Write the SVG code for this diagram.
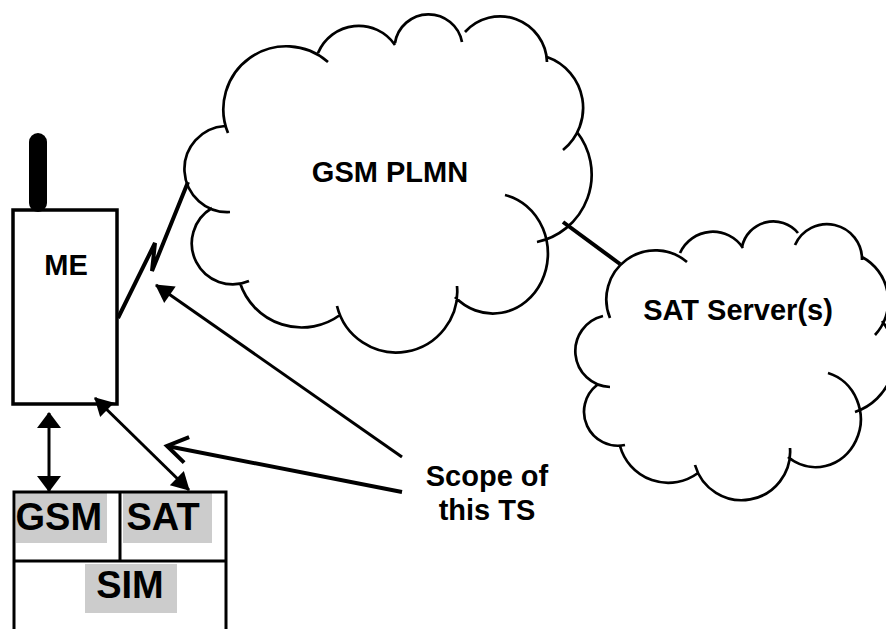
<svg xmlns="http://www.w3.org/2000/svg" width="886" height="629" viewBox="0 0 886 629">
<style>
.lbl{font-family:"Liberation Sans",Arial,sans-serif;font-weight:bold;fill:#000}
.m{font-size:29px;text-anchor:middle}
.big{font-size:38px}
.cloudfill{fill:#fff;stroke:none}
.cloudline{fill:none;stroke:#000;stroke-width:2.7;stroke-linecap:butt}
.box{fill:none;stroke:#000;stroke-width:3.5}
.hl{fill:#cccccc}
.ln{fill:none;stroke:#000;stroke-width:3}
.thick{fill:none;stroke:#000;stroke-width:4}
</style>
<defs>
<marker id="ah" markerUnits="userSpaceOnUse" markerWidth="18" markerHeight="20" refX="17" refY="10" orient="auto-start-reverse" overflow="visible">
<path d="M0,0 L18,10 L0,20 z" fill="#000"/>
</marker>
<marker id="ahv" markerUnits="userSpaceOnUse" markerWidth="16" markerHeight="24" refX="15" refY="12" orient="auto-start-reverse" overflow="visible">
<path d="M0,0 L16,12 L0,24 z" fill="#000"/>
</marker>
<marker id="open" markerUnits="userSpaceOnUse" markerWidth="22" markerHeight="28" refX="21" refY="14" orient="auto" overflow="visible">
<path d="M1,1 L21,14 L1,27" fill="none" stroke="#000" stroke-width="4"/>
</marker>
</defs>

<g id="gsm-plmn">
<path class="cloudfill" d="M249,281 A41,41 0 0 1 212,208 L225,126 A63,63 0 0 1 328,62 L318,53 A44,44 0 0 1 395,45 A34,34 0 0 1 462,42 L465,32 A47,47 0 0 1 547,62 A54,54 0 0 1 563,150 L577,132 A69,69 0 0 1 537,242 A55,60 0 0 1 455,297 L457,286 A61,61 0 0 1 337,306 L340,315 A65,65 0 0 1 240,283 Z"/>
<path class="cloudline" d="M249,281 A41,41 0 0 1 212,208 M230,212 A43,43 0 0 1 225,126 M228,133 A63,63 0 0 1 328,62 M318,53 A44,44 0 0 1 395,45 M395,43 A34,34 0 0 1 462,42 M465,32 A47,47 0 0 1 547,62 M547,57 A54,54 0 0 1 563,150 M577,132 A69,69 0 0 1 537,242 M505,195 A55,60 0 1 1 455,297 M457,286 A61,61 0 0 1 337,306 M340,315 A65,65 0 0 1 240,283"/>
<text class="lbl m" x="390" y="182">GSM PLMN</text>
</g>

<g id="sat-servers">
<path class="cloudfill" d="M625,445 A34,34 0 0 1 597,385 L610,387 A36,36 0 0 1 603,316 L610,318 A49,49 0 0 1 687,262 L680,253 A36,36 0 0 1 743,248 A32,32 0 0 1 798,233 L795,245 A35,35 0 0 1 862,260 A50,50 0 0 1 875,335 L882,321 A58,58 0 0 1 855,412 A45,48 0 0 1 788,457 L790,448 A48.5,48.5 0 0 1 695,465 L698,473 A50,50 0 0 1 620,446 Z"/>
<path class="cloudline" d="M625,445 A34,34 0 0 1 597,385 M610,387 A36,36 0 0 1 603,316 M610,318 A49,49 0 0 1 687,262 M680,253 A36,36 0 0 1 743,248 M742,247 A32,32 0 0 1 798,233 M795,245 A35,35 0 0 1 862,260 M862,257 A50,50 0 0 1 875,335 M882,321 A58,58 0 0 1 855,412 M828,373 A45,48 0 1 1 788,457 M790,448 A48.5,48.5 0 0 1 695,465 M698,473 A50,50 0 0 1 620,446"/>
<text class="lbl m" x="738" y="320">SAT Server(s)</text>
</g>

<g id="me">
<line x1="38" y1="142" x2="38" y2="203" stroke="#000" stroke-width="18" stroke-linecap="round"/>
<rect class="box" x="13" y="210" width="104" height="194" fill="#fff"/>
<text class="lbl m" x="66" y="275">ME</text>
</g>

<g id="sim">
<rect class="hl" x="16" y="493" width="91" height="50"/>
<rect class="hl" x="123" y="493" width="89" height="50"/>
<rect class="hl" x="85" y="564" width="92" height="49"/>
<path class="ln" d="M14,640 V492 H226 V640 M14,561 H226 M120,492 V561"/>
<g id="sim-gsm"><text class="lbl big" x="15.5" y="530">GSM</text></g>
<g id="sim-sat"><text class="lbl big" x="126.5" y="530">SAT</text></g>
<text class="lbl big" x="130" y="598" text-anchor="middle">SIM</text>
</g>

<g id="scope-label">
<text class="lbl m" x="487" y="486">Scope of</text>
<text class="lbl m" x="487" y="520">this TS</text>
</g>

<g id="connectors">
<polyline class="thick" points="118,318 155,243 152,271 188,182" stroke-linejoin="miter"/>
<line class="thick" x1="563" y1="222" x2="620" y2="264"/>
<line class="ln" x1="49" y1="413" x2="49" y2="491" marker-start="url(#ahv)" marker-end="url(#ahv)"/>
<line class="ln" x1="95" y1="398" x2="189" y2="490" marker-start="url(#ah)" marker-end="url(#ah)"/>
<line class="ln" x1="402" y1="457" x2="156" y2="285" marker-end="url(#ah)"/>
<line class="thick" x1="402" y1="492" x2="167" y2="446" marker-end="url(#open)"/>
</g>
</svg>
